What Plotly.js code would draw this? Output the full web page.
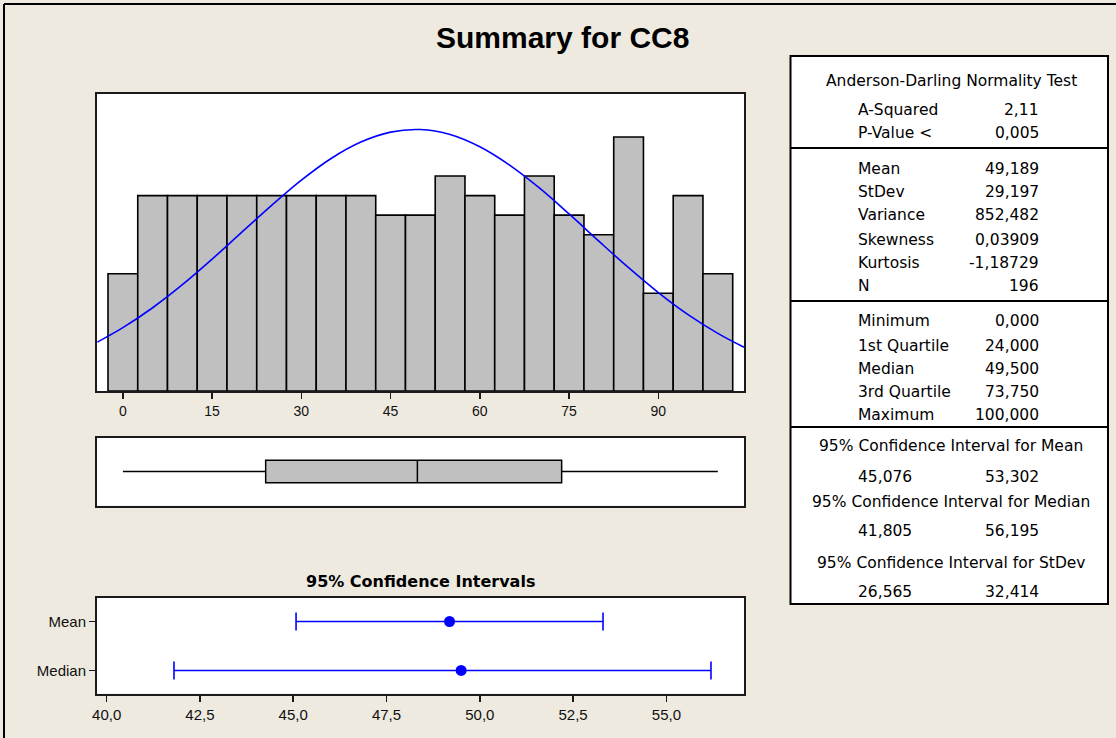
<!DOCTYPE html>
<html>
<head>
<meta charset="utf-8">
<script src="https://cdn.plot.ly/plotly-3.0.1.min.js"></script>
<style>
  html, body { margin: 0; padding: 0; background: #EEEAE0; }
  #chart { width: 1116px; height: 738px; }
</style>
</head>
<body>
<div id="chart"></div>
<script>
// ---------------- DATA ----------------
const chartTitle = 'Summary for CC8';

// Histogram (bin centres, counts)
const binCenters = [0, 5, 10, 15, 20, 25, 30, 35, 40, 45, 50, 55, 60, 65, 70, 75, 80, 85, 90, 95, 100];
const binCounts  = [6, 10, 10, 10, 10, 10, 10, 10, 10, 9, 9, 11, 10, 9, 11, 9, 8, 13, 5, 10, 6];
const histTicks  = [0, 15, 30, 45, 60, 75, 90];

// Fitted normal curve
const curveX = [-4.3, 0, 5, 10, 15, 20, 25, 30, 35, 40, 45, 50, 55, 60, 65, 70, 75, 80, 85, 90, 95, 100, 104.4];
const curveY = [2.50, 3.24, 4.26, 5.44, 6.75, 8.13, 9.50, 10.79, 11.90, 12.74, 13.25, 13.38, 13.13, 12.50, 11.56, 10.39, 9.06, 7.67, 6.31, 5.04, 3.91, 2.95, 2.24];

// Box plot
const boxMin = [0];
const boxQ1 = [24];
const boxMedian = [49.5];
const boxQ3 = [73.75];
const boxMax = [100];

// 95% confidence intervals
const ciTitle = '95% Confidence Intervals';
const ciLabels = ['Mean', 'Median'];
const ciCenter = [49.189, 49.5];
const ciLow = [45.076, 41.805];
const ciHigh = [53.302, 56.195];
const ciTicks = [40, 42.5, 45, 47.5, 50, 52.5, 55];

// Summary table
const adHeader = 'Anderson-Darling Normality Test';
const adLabels = ['A-Squared', 'P-Value <'];
const adValues = ['2,11', '0,005'];
const descLabels = ['Mean', 'StDev', 'Variance', 'Skewness', 'Kurtosis', 'N'];
const descValues = ['49,189', '29,197', '852,482', '0,03909', '-1,18729', '196'];
const quantLabels = ['Minimum', '1st Quartile', 'Median', '3rd Quartile', 'Maximum'];
const quantValues = ['0,000', '24,000', '49,500', '73,750', '100,000'];
const ciHeaders = ['95% Confidence Interval for Mean', '95% Confidence Interval for Median', '95% Confidence Interval for StDev'];
const ciLowText = ['45,076', '41,805', '26,565'];
const ciHighText = ['53,302', '56,195', '32,414'];

// ---------------- LAYOUT HELPERS ----------------
const W = 1116, H = 738;
const px = v => v / W;
const py = v => 1 - v / H;

const frameColor = '#1a1a1a';
const sansFont = '"Liberation Sans", Arial, sans-serif';
const tableFont = '"DejaVu Sans", Verdana, sans-serif';

const traces = [
  {
    type: 'bar', x: binCenters, y: binCounts, width: 5,
    marker: { color: '#C0C0C0', line: { color: '#000000', width: 1.6 } },
    xaxis: 'x', yaxis: 'y', hoverinfo: 'skip', showlegend: false
  },
  {
    type: 'scatter', mode: 'lines', x: curveX, y: curveY,
    line: { color: '#0000FF', width: 1.6, shape: 'spline' },
    xaxis: 'x', yaxis: 'y', hoverinfo: 'skip', showlegend: false
  },
  {
    type: 'box', orientation: 'h', y: [0],
    q1: boxQ1, median: boxMedian, q3: boxQ3, lowerfence: boxMin, upperfence: boxMax,
    width: 1, whiskerwidth: 0, fillcolor: '#C0C0C0',
    line: { color: '#000000', width: 1.5 },
    xaxis: 'x2', yaxis: 'y2', hoverinfo: 'skip', showlegend: false
  },
  {
    type: 'scatter', mode: 'markers', x: ciCenter, y: ciLabels,
    marker: { color: '#0000FF', size: 11 },
    error_x: {
      type: 'data', symmetric: false,
      array: ciHigh.map((h, i) => h - ciCenter[i]),
      arrayminus: ciLow.map((l, i) => ciCenter[i] - l),
      color: '#0000FF', thickness: 1.6, width: 9
    },
    xaxis: 'x3', yaxis: 'y3', hoverinfo: 'skip', showlegend: false
  }
];

const xDom = [px(97), px(744)];
const frameAxis = { showline: true, linecolor: frameColor, linewidth: 2, mirror: true, zeroline: false, showgrid: false };

const annotations = [];
function ann(text, x, y, opts) {
  annotations.push(Object.assign({
    text: text, xref: 'paper', yref: 'paper', x: px(x), y: py(y),
    showarrow: false, xanchor: 'left', yanchor: 'middle',
    font: { family: tableFont, size: 15.5, color: '#000000' }
  }, opts || {}));
}

// Titles
ann(chartTitle, 562, 38, { xanchor: 'center', font: { family: sansFont, size: 30, color: '#000000', weight: 'bold' } });
ann('<b>' + ciTitle + '</b>', 420, 581, { xanchor: 'center', font: { family: tableFont, size: 16, color: '#000000' } });

// Table text
const labelX = 856, valueX = 1041, centerX = 951;
ann(adHeader, centerX, 81, { xanchor: 'center' });
const adY = [110, 133];
adLabels.forEach((t, i) => { ann(t, labelX, adY[i]); ann(adValues[i], valueX, adY[i], { xanchor: 'right' }); });
const descY = [169, 192, 215, 240, 263, 286];
descLabels.forEach((t, i) => { ann(t, labelX, descY[i]); ann(descValues[i], valueX, descY[i], { xanchor: 'right' }); });
const quantY = [321, 346, 369, 392, 415];
quantLabels.forEach((t, i) => { ann(t, labelX, quantY[i]); ann(quantValues[i], valueX, quantY[i], { xanchor: 'right' }); });
const ciHeadY = [446, 502, 563];
const ciValY = [477, 531, 592];
ciHeaders.forEach((t, i) => {
  ann(t, centerX, ciHeadY[i], { xanchor: 'center' });
  ann(ciLowText[i], labelX, ciValY[i]);
  ann(ciHighText[i], valueX, ciValY[i], { xanchor: 'right' });
});

const shapes = [
  // outer frame (top & left)
  { type: 'line', xref: 'paper', yref: 'paper', x0: px(4), x1: 1, y0: py(4), y1: py(4), line: { color: '#000', width: 2 } },
  { type: 'line', xref: 'paper', yref: 'paper', x0: px(4), x1: px(4), y0: py(4), y1: 0, line: { color: '#000', width: 2 } },
  // table box
  { type: 'rect', xref: 'paper', yref: 'paper', x0: px(790.5), x1: px(1108), y0: py(56), y1: py(604), fillcolor: '#FFFFFF', line: { color: '#000', width: 2 }, layer: 'below' },
  { type: 'line', xref: 'paper', yref: 'paper', x0: px(790.5), x1: px(1108), y0: py(148), y1: py(148), line: { color: '#000', width: 2 } },
  { type: 'line', xref: 'paper', yref: 'paper', x0: px(790.5), x1: px(1108), y0: py(301), y1: py(301), line: { color: '#000', width: 2 } },
  { type: 'line', xref: 'paper', yref: 'paper', x0: px(790.5), x1: px(1108), y0: py(427), y1: py(427), line: { color: '#000', width: 2 } }
];

const layout = {
  width: W, height: H,
  margin: { l: 0, r: 0, t: 0, b: 0, pad: 0 },
  paper_bgcolor: '#EEEAE0',
  plot_bgcolor: '#FFFFFF',
  separators: ',.',
  showlegend: false,
  bargap: 0,
  xaxis: Object.assign({}, frameAxis, {
    domain: xDom, anchor: 'y', range: [-4.35, 104.4],
    tickmode: 'array', tickvals: histTicks, ticks: 'outside', ticklen: 6, tickwidth: 1.5, tickcolor: frameColor,
    tickfont: { family: sansFont, size: 14, color: '#111' }
  }),
  yaxis: Object.assign({}, frameAxis, {
    domain: [py(391), py(94)], anchor: 'x', range: [0, 15.2], showticklabels: false, ticks: ''
  }),
  xaxis2: Object.assign({}, frameAxis, {
    domain: xDom, anchor: 'y2', range: [-4.35, 104.4], showticklabels: false, ticks: ''
  }),
  yaxis2: Object.assign({}, frameAxis, {
    domain: [py(505.5), py(437.5)], anchor: 'x2', range: [-1.5, 1.5], showticklabels: false, ticks: ''
  }),
  xaxis3: Object.assign({}, frameAxis, {
    domain: xDom, anchor: 'y3', range: [39.742, 57.08],
    tickmode: 'array', tickvals: ciTicks, tickformat: '.1f', ticks: 'outside', ticklen: 6, tickwidth: 1.5, tickcolor: frameColor,
    tickfont: { family: sansFont, size: 15, color: '#111' }
  }),
  yaxis3: Object.assign({}, frameAxis, {
    domain: [py(693.5), py(597.5)], anchor: 'x3', type: 'category',
    categoryorder: 'array', categoryarray: ['Median', 'Mean'], range: [-0.47, 1.49],
    ticks: 'outside', ticklen: 6, tickwidth: 1.5, tickcolor: frameColor,
    tickfont: { family: sansFont, size: 15, color: '#111' }
  }),
  annotations: annotations,
  shapes: shapes
};

Plotly.newPlot('chart', traces, layout, { displayModeBar: false, staticPlot: true });
</script>
</body>
</html>
